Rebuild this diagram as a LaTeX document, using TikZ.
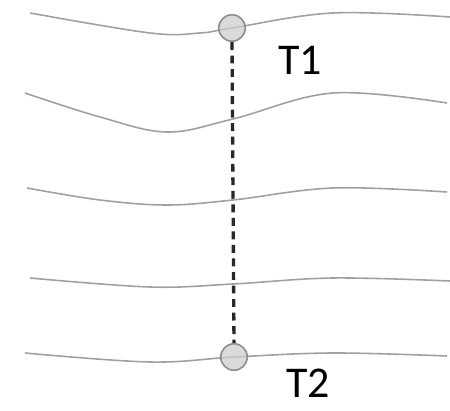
\documentclass[tikz,border=0pt]{standalone}
\usepackage{fontspec}
\setmainfont{Carlito}
\definecolor{wavegray}{RGB}{160,160,160}
\definecolor{pointfill}{RGB}{205,205,205}
\definecolor{pointedge}{RGB}{140,140,140}
\definecolor{linkdark}{RGB}{40,40,40}
\tikzset{
  wave/.style={draw=wavegray, line width=0.9pt},
  point/.style={
    circle, draw=pointedge, line width=0.9pt,
    fill=pointfill, fill opacity=0.75,
    minimum size=0.53cm, inner sep=0pt
  },
  link/.style={draw=linkdark, line width=1.9pt, dash pattern=on 4.5pt off 3.2pt},
  tlabel/.style={font=\fontsize{25}{30}\selectfont, text=black,
    inner sep=0pt, text depth=0pt, anchor=base}
}

\begin{document}
\begin{tikzpicture}[x=0.02cm, y=-0.02cm]

\useasboundingbox (0,0) rectangle (450,411);

%--------------------------------------------------
% Wave lines
%--------------------------------------------------
\draw[wave] plot[smooth, tension=0.6] coordinates
  {(30,13) (150,33) (200,33) (232,28) (333,13) (450,17)};
\draw[wave] plot[smooth, tension=0.6] coordinates
  {(25,93) (100,117) (167,132) (233,119) (333,93) (447,103)};
\draw[wave] plot[smooth, tension=0.6] coordinates
  {(27,188) (100,200) (167,205) (233,200) (333,188) (447,192)};
\draw[wave] plot[smooth, tension=0.6] coordinates
  {(30,278) (150,287) (233,284) (333,278) (450,281)};
\draw[wave] plot[smooth, tension=0.6] coordinates
  {(25,353) (150,362) (235,357) (333,353) (447,356)};

%--------------------------------------------------
% Points and link
%--------------------------------------------------
\node[point] (p1) at (232,28) {};
\node[point] (p2) at (234,357) {};

\draw[link] (p1.south) -- (p2.north);

%--------------------------------------------------
% Labels
%--------------------------------------------------
\node[tlabel] (t1) at (300,75) {T1};
\node[tlabel] (t2) at (308,398) {T2};

\end{tikzpicture}
\end{document}
